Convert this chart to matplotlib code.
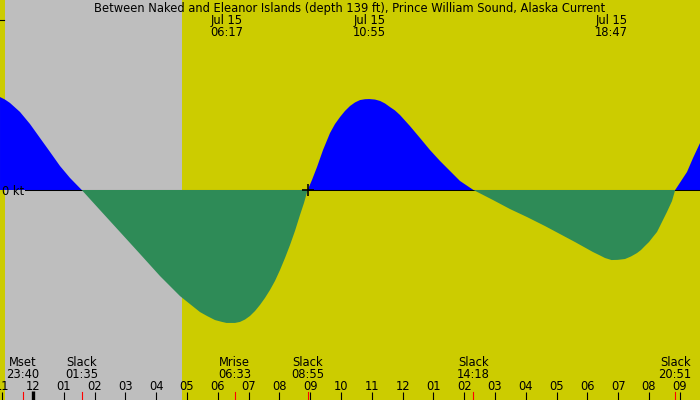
import matplotlib
matplotlib.use("Agg")
import matplotlib.pyplot as plt
import numpy as np

# ---- data (hours since midnight Jul 15, current speed in knots; + flood, - ebb)
hours = [-1.071, -0.909, -0.747, -0.422, -0.097, 0.227, 0.552, 0.877, 1.201, 1.583,
         2.175, 2.825, 3.474, 4.123, 4.773, 5.097, 5.422, 5.649, 5.909, 6.136, 6.283,
         6.558, 6.721, 6.883, 7.045, 7.208, 7.370, 7.532, 7.695, 7.857, 8.019, 8.182,
         8.344, 8.506, 8.669, 8.799, 8.917,
         9.058, 9.221, 9.416, 9.643, 9.805, 9.968, 10.130, 10.292, 10.455, 10.617,
         10.779, 10.917, 11.104, 11.266, 11.429, 11.591, 11.753,
         11.916, 12.240, 12.565, 12.890, 13.214, 13.539, 13.864, 14.300,
         14.935, 15.487, 16.039, 16.623, 17.110, 17.597, 18.182, 18.409, 18.571, 18.783,
         18.981, 19.221, 19.416, 19.610, 19.740, 19.870, 20.000, 20.130, 20.260, 20.357,
         20.455, 20.584, 20.747, 20.850,
         21.234, 21.429, 21.656]
speed = [0.547, 0.532, 0.512, 0.459, 0.388, 0.306, 0.224, 0.141, 0.071, 0.0,
         -0.118, -0.247, -0.376, -0.506, -0.624, -0.671, -0.718, -0.741, -0.765, -0.776, -0.782,
         -0.782, -0.776, -0.762, -0.741, -0.712, -0.676, -0.635, -0.588, -0.535, -0.471, -0.400,
         -0.324, -0.241, -0.147, -0.076, 0.0,
         0.059, 0.135, 0.235, 0.335, 0.388, 0.429, 0.465, 0.494, 0.515, 0.529,
         0.534, 0.535, 0.532, 0.524, 0.509, 0.488, 0.468,
         0.441, 0.376, 0.306, 0.235, 0.171, 0.112, 0.053, 0.0,
         -0.059, -0.112, -0.159, -0.212, -0.259, -0.306, -0.365, -0.385, -0.400, -0.412,
         -0.411, -0.406, -0.391, -0.371, -0.353, -0.329, -0.306, -0.276, -0.247, -0.212,
         -0.176, -0.129, -0.065, 0.0,
         0.106, 0.188, 0.276]

title = "Between Naked and Eleanor Islands (depth 139 ft), Prince William Sound, Alaska Current"

# maxima labels (top)
max_times = [6.283, 10.917, 18.783]
max_labels = ["Jul 15\n06:17", "Jul 15\n10:55", "Jul 15\n18:47"]

# events (bottom)
event_times = [-0.333, 1.583, 6.55, 8.917, 14.3, 20.85]
event_names = ["Mset", "Slack", "Mrise", "Slack", "Slack", "Slack"]
event_clock = ["23:40", "01:35", "06:33", "08:55", "14:18", "20:51"]

# hour ticks
tick_hours = list(range(-1, 22))
tick_labels = ["11", "12", "01", "02", "03", "04", "05", "06", "07", "08", "09", "10",
               "11", "12", "01", "02", "03", "04", "05", "06", "07", "08", "09"]

sunset = -0.909   # 23:05 Jul 14
sunrise = 4.838   # 04:50 Jul 15
marked_slack = 8.917

# ---- figure
W, H = 700, 400
fig = plt.figure(figsize=(7, 4), dpi=100)
fig.patch.set_facecolor("#cccc00")
ax = fig.add_axes([0, 0, 1, 1])
ax.set_facecolor("#cccc00")
ax.set_xlim(-1.0714, 21.656)
ax.set_ylim(-1.2353, 1.1176)
ax.axis("off")

fs = 8.3
ax.axvspan(sunset, sunrise, color="#bebebe", lw=0, zorder=0)

h = np.array(hours)
v = np.array(speed)
ax.fill_between(h, 0, v, where=v >= 0, interpolate=True, color="#0000ff", lw=0, zorder=1)
ax.plot([25 / W, 1.0], [0, 0], color="black", lw=0.75, transform=ax.get_yaxis_transform(), zorder=2)
ax.fill_between(h, 0, v, where=v <= 0, interpolate=True, color="#2e8b57", lw=0, zorder=3)

ax.plot([marked_slack], [0], marker="+", color="black", ms=8, mew=1.2, zorder=4)

xt = ax.get_xaxis_transform()
fy = lambda py: 1 - py / H

# y tick at 1 kt and zero label
ax.plot([0, 4 / W], [1, 1], color="black", lw=0.8, transform=ax.get_yaxis_transform())
fig.text(2 / W, fy(195), "0 kt", ha="left", va="baseline", fontsize=fs)

fig.text(0.5, fy(12), title, ha="center", va="baseline", fontsize=fs)

for t, lab in zip(max_times, max_labels):
    a, b = lab.split("\n")
    ax.text(t, fy(24), a, transform=xt, ha="center", va="baseline", fontsize=fs)
    ax.text(t, fy(36), b, transform=xt, ha="center", va="baseline", fontsize=fs)

for t, n, c in zip(event_times, event_names, event_clock):
    ax.text(t, fy(366), n, transform=xt, ha="center", va="baseline", fontsize=fs)
    ax.text(t, fy(378), c, transform=xt, ha="center", va="baseline", fontsize=fs)
    ax.plot([t, t], [0, 8 / H], color="red", lw=0.8, transform=xt, zorder=5)

for t, lab in zip(tick_hours, tick_labels):
    ax.text(t, fy(389.5), lab, transform=xt, ha="center", va="baseline", fontsize=fs)
    lw = 2.4 if t == 0 else 0.8
    top = 9.5 / H if t == 0 else 8 / H
    ax.plot([t, t], [0, top], color="black", lw=lw, transform=xt, zorder=6, solid_capstyle="butt")

fig.savefig("out.png", dpi=100, facecolor=fig.get_facecolor())
